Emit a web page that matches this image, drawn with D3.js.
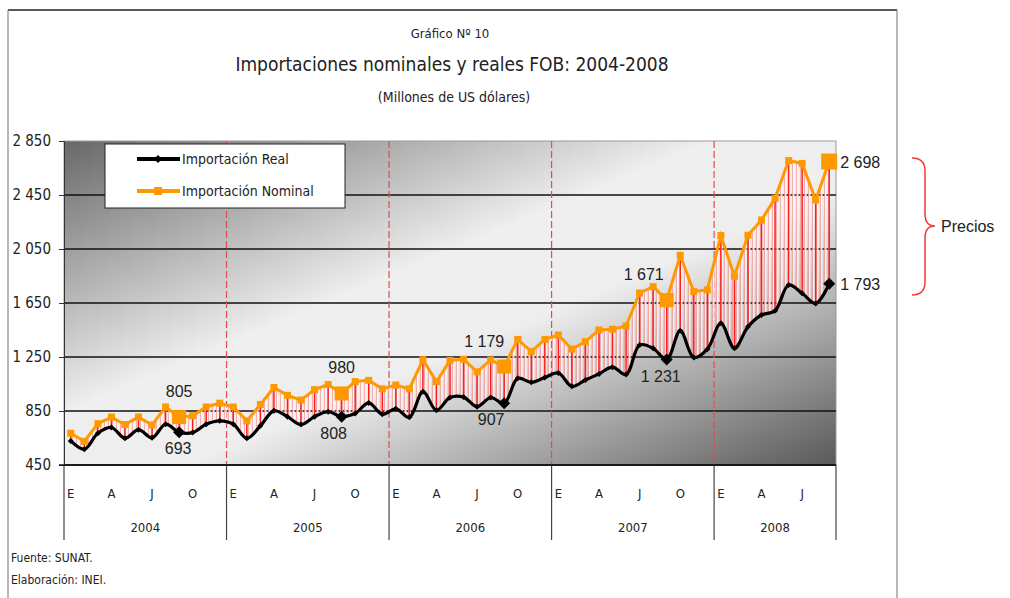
<!DOCTYPE html>
<html>
<head>
<meta charset="utf-8">
<script src="https://cdn.jsdelivr.net/npm/d3@7"></script>
<style>
  body { margin: 0; background: #fff; }
  text { font-family: "Liberation Sans Narrow", "DejaVu Sans Condensed", "Liberation Sans", sans-serif; fill: #222; }
  .sans { font-family: "Liberation Sans", Arial, sans-serif; }
</style>
</head>
<body>
<div id="chart"></div>
<script>
// categorias: meses ene-2004 .. set-2008
var anios = ["2004", "2005", "2006", "2007", "2008"];
var meses = ["E", "F", "M", "A", "M", "J", "J", "A", "S", "O", "N", "D"];
var mesesEtiqueta = ["E", "A", "J", "O"];

// Importación Nominal (millones US$)
var nominal = [
  685, 625, 756, 805, 750, 806, 746, 880, 805, 815, 880, 908,
  880, 777, 898, 1024, 966, 931, 1008, 1046, 980, 1068, 1077, 1014,
  1042, 1014, 1230, 1067, 1225, 1233, 1140, 1228, 1179, 1380, 1290, 1380,
  1413, 1308, 1364, 1450, 1455, 1480, 1724, 1771, 1671, 2003, 1734, 1748,
  2150, 1848, 2152, 2265, 2425, 2705, 2684, 2413, 2698
];
// Importación Real (millones US$)
var real = [
  628, 567, 685, 728, 648, 712, 652, 752, 693, 690, 752, 777,
  752, 648, 740, 851, 808, 750, 808, 845, 808, 832, 910, 826,
  866, 803, 993, 855, 950, 953, 882, 950, 907, 1092, 1063, 1098,
  1131, 1033, 1080, 1125, 1175, 1120, 1339, 1314, 1231, 1445, 1246, 1308,
  1500, 1314, 1474, 1561, 1592, 1783, 1722, 1647, 1793
];
var yTicks = [450, 850, 1250, 1650, 2050, 2450, 2850];

var cats = [];
anios.forEach(function(a) {
  meses.forEach(function(m, j) {
    if (cats.length < nominal.length) cats.push({anio: a, mes: m, idx: j, key: a + "-" + j});
  });
});

var fmt = d3.formatLocale({decimal: ",", thousands: " ", grouping: [3], currency: ["", ""]}).format(",d");

var W = 1010, H = 598;
var plot = {left: 64, right: 836, top: 141, bottom: 465};

var svg = d3.select("#chart").append("svg").attr("width", W).attr("height", H);

var defs = svg.append("defs");
var grad = defs.append("linearGradient").attr("id", "fondo")
  .attr("x1", 0).attr("y1", 0).attr("x2", 1).attr("y2", 1);
grad.append("stop").attr("offset", 0).attr("stop-color", "#686868");
grad.append("stop").attr("offset", 0.42).attr("stop-color", "#efefef");
grad.append("stop").attr("offset", 0.58).attr("stop-color", "#eeeeee");
grad.append("stop").attr("offset", 1).attr("stop-color", "#595959");

var pat = defs.append("pattern").attr("id", "rayado")
  .attr("patternUnits", "userSpaceOnUse").attr("width", 4).attr("height", 4);
pat.append("rect").attr("x", 0).attr("width", 1).attr("height", 4)
  .attr("fill", "#f39a9a").attr("opacity", 0.75);
pat.append("rect").attr("x", 1).attr("width", 1.6).attr("height", 4)
  .attr("fill", "#fff6f6").attr("opacity", 0.85);

// marco exterior
svg.append("line").attr("x1", 8).attr("x2", 897).attr("y1", 10).attr("y2", 10)
  .attr("stroke", "#222").attr("stroke-width", 1.5);
svg.append("line").attr("x1", 8).attr("x2", 8).attr("y1", 10).attr("y2", H)
  .attr("stroke", "#888").attr("stroke-width", 1.2);
svg.append("line").attr("x1", 897).attr("x2", 897).attr("y1", 10).attr("y2", H)
  .attr("stroke", "#888").attr("stroke-width", 1.2);

// titulos
svg.append("text").attr("x", 450).attr("y", 38).attr("text-anchor", "middle")
  .style("font-size", "13px").text("Gráfico Nº 10");
svg.append("text").attr("x", 452).attr("y", 71).attr("text-anchor", "middle")
  .style("font-size", "19px").text("Importaciones nominales y reales FOB: 2004-2008");
svg.append("text").attr("x", 454).attr("y", 102).attr("text-anchor", "middle")
  .style("font-size", "14px").text("(Millones de US dólares)");

var x = d3.scaleBand().domain(cats.map(function(d) { return d.key; }))
  .range([plot.left, plot.right]).padding(0);
var y = d3.scaleLinear().domain([450, 2850]).range([plot.bottom, plot.top]);
var cx = function(i) { return x(cats[i].key) + x.bandwidth() / 2; };

svg.append("rect").attr("x", plot.left).attr("y", plot.top)
  .attr("width", plot.right - plot.left).attr("height", plot.bottom - plot.top)
  .attr("fill", "url(#fondo)").attr("stroke", "#999");

// rejilla
svg.append("g").selectAll("line").data(yTicks.slice(0, -1)).enter().append("line")
  .attr("x1", plot.left).attr("x2", plot.right)
  .attr("y1", function(d) { return y(d); }).attr("y2", function(d) { return y(d); })
  .attr("stroke", "#111").attr("stroke-width", 1.3);

// eje Y
var yAxis = svg.append("g").attr("transform", "translate(" + plot.left + ",0)")
  .call(d3.axisLeft(y).tickValues(yTicks).tickFormat(fmt).tickSize(5).tickPadding(8));
yAxis.select(".domain").attr("stroke", "#333");
yAxis.selectAll(".tick line").attr("stroke", "#333");
yAxis.selectAll("text").style("font-size", "15px").attr("fill", "#222")
  .style("font-family", "\"Liberation Sans Narrow\", \"DejaVu Sans Condensed\", sans-serif");

// separadores de año (rojo punteado)
var inicios = cats.filter(function(d) { return d.idx === 0 && d.anio !== anios[0]; });
svg.append("g").selectAll("line").data(inicios).enter().append("line")
  .attr("x1", function(d) { return x(d.key); }).attr("x2", function(d) { return x(d.key); })
  .attr("y1", plot.top).attr("y2", plot.bottom)
  .attr("stroke", "#e84a4a").attr("stroke-width", 1.2).attr("stroke-dasharray", "7,3");

// area entre series
var area = d3.area()
  .x(function(d, i) { return cx(i); })
  .y0(function(d, i) { return y(real[i]); })
  .y1(function(d, i) { return y(nominal[i]); });
svg.append("path").datum(nominal).attr("d", area).attr("fill", "url(#rayado)");

// lineas max-min
svg.append("g").selectAll("line").data(nominal).enter().append("line")
  .attr("x1", function(d, i) { return cx(i); }).attr("x2", function(d, i) { return cx(i); })
  .attr("y1", function(d) { return y(d); }).attr("y2", function(d, i) { return y(real[i]); })
  .attr("stroke", "#ff1e1e").attr("stroke-width", 1.5);

// series
var lineaNom = d3.line().x(function(d, i) { return cx(i); }).y(function(d) { return y(d); });
var lineaReal = d3.line().x(function(d, i) { return cx(i); }).y(function(d) { return y(d); })
  .curve(d3.curveCatmullRom.alpha(0.5));

svg.append("path").datum(nominal).attr("d", lineaNom)
  .attr("fill", "none").attr("stroke", "#ff9900").attr("stroke-width", 3);
svg.append("path").datum(real).attr("d", lineaReal)
  .attr("fill", "none").attr("stroke", "#000").attr("stroke-width", 3.2);

var esSet = function(i) { return cats[i].idx === 8; };

svg.append("g").selectAll("rect").data(nominal).enter().append("rect")
  .each(function(d, i) {
    var s = esSet(i) ? 14 : 7;
    if (i === nominal.length - 1) s = 16;
    d3.select(this).attr("x", cx(i) - s / 2).attr("y", y(d) - s / 2)
      .attr("width", s).attr("height", s);
  })
  .attr("fill", "#ff9900");

svg.append("g").selectAll("path").data(real).enter().append("path")
  .attr("d", function(d, i) {
    var r = esSet(i) ? 6 : 3;
    return "M0," + (-r) + "L" + r + ",0L0," + r + "L" + (-r) + ",0Z";
  })
  .attr("transform", function(d, i) { return "translate(" + cx(i) + "," + y(d) + ")"; })
  .attr("fill", "#000");

// etiquetas de septiembre
var desplaz = {"2004": [0, -1], "2005": [0, -8], "2006": [-20, -13], "2007": [-23, -6]};
cats.forEach(function(c, i) {
  if (!esSet(i)) return;
  if (i === nominal.length - 1) {
    svg.append("text").attr("class", "sans").attr("x", cx(i) + 11).attr("y", y(nominal[i]) + 6)
      .style("font-size", "16px").attr("fill", "#333").text(fmt(nominal[i]));
    svg.append("text").attr("class", "sans").attr("x", cx(i) + 11).attr("y", y(real[i]) + 6)
      .style("font-size", "16px").attr("fill", "#333").text(fmt(real[i]));
    return;
  }
  var dx = desplaz[c.anio];
  svg.append("text").attr("class", "sans").attr("x", cx(i) + dx[0]).attr("y", y(nominal[i]) - 20)
    .attr("text-anchor", "middle").style("font-size", "16px").attr("fill", "#333")
    .text(fmt(nominal[i]));
  svg.append("text").attr("class", "sans").attr("x", cx(i) + dx[1]).attr("y", y(real[i]) + 22)
    .attr("text-anchor", "middle").style("font-size", "16px").attr("fill", "#333")
    .text(fmt(real[i]));
});

// eje X: meses y años
var ejeX = svg.append("g");
ejeX.selectAll("text.mes").data(cats.filter(function(d) { return d.idx % 3 === 0; }))
  .enter().append("text").attr("class", "mes")
  .attr("x", function(d) { return x(d.key) + x.bandwidth() / 2; }).attr("y", 498)
  .attr("text-anchor", "middle").style("font-size", "13px")
  .text(function(d) { return mesesEtiqueta[d.idx / 3]; });

var bloques = anios.map(function(a) {
  var cs = cats.filter(function(d) { return d.anio === a; });
  return {anio: a, x0: x(cs[0].key), x1: x(cs[cs.length - 1].key) + x.bandwidth()};
});
ejeX.selectAll("line").data([bloques[0].x0].concat(bloques.map(function(b) { return b.x1; })))
  .enter().append("line")
  .attr("x1", function(d) { return d; }).attr("x2", function(d) { return d; })
  .attr("y1", plot.bottom).attr("y2", 540).attr("stroke", "#444").attr("stroke-width", 1.2);
ejeX.selectAll("text.anio").data(bloques).enter().append("text").attr("class", "anio")
  .attr("x", function(b) { return (b.x0 + b.x1) / 2; }).attr("y", 532)
  .attr("text-anchor", "middle").style("font-size", "13px")
  .text(function(b) { return b.anio; });
svg.append("line").attr("x1", plot.left - 5).attr("x2", plot.right)
  .attr("y1", plot.bottom).attr("y2", plot.bottom).attr("stroke", "#111").attr("stroke-width", 1.5);

// leyenda
var ley = svg.append("g");
ley.append("rect").attr("x", 105).attr("y", 144).attr("width", 240).attr("height", 64)
  .attr("fill", "#fff").attr("stroke", "#222").attr("stroke-width", 1);
ley.append("line").attr("x1", 137).attr("x2", 180).attr("y1", 159).attr("y2", 159)
  .attr("stroke", "#000").attr("stroke-width", 4);
ley.append("path").attr("d", "M158,155L162,159L158,163L154,159Z").attr("fill", "#000");
ley.append("text").attr("x", 182).attr("y", 164).style("font-size", "14px").text("Importación Real");
ley.append("line").attr("x1", 137).attr("x2", 180).attr("y1", 191).attr("y2", 191)
  .attr("stroke", "#ff9900").attr("stroke-width", 4);
ley.append("rect").attr("x", 154).attr("y", 187).attr("width", 8).attr("height", 8).attr("fill", "#ff9900");
ley.append("text").attr("x", 182).attr("y", 196).style("font-size", "14px").text("Importación Nominal");

// llave "Precios"
svg.append("path")
  .attr("d", "M912,158 Q925,158 925,171 L925,214 Q925,226 935,226 Q925,226 925,238 L925,282 Q925,295 912,295")
  .attr("fill", "none").attr("stroke", "#f03c3c").attr("stroke-width", 1.5);
svg.append("text").attr("class", "sans").attr("x", 941).attr("y", 232)
  .style("font-size", "16px").text("Precios");

// fuente
svg.append("text").attr("x", 11).attr("y", 562).style("font-size", "12px").text("Fuente: SUNAT.");
svg.append("text").attr("x", 11).attr("y", 584).style("font-size", "12px").text("Elaboración: INEI.");
</script>
</body>
</html>
